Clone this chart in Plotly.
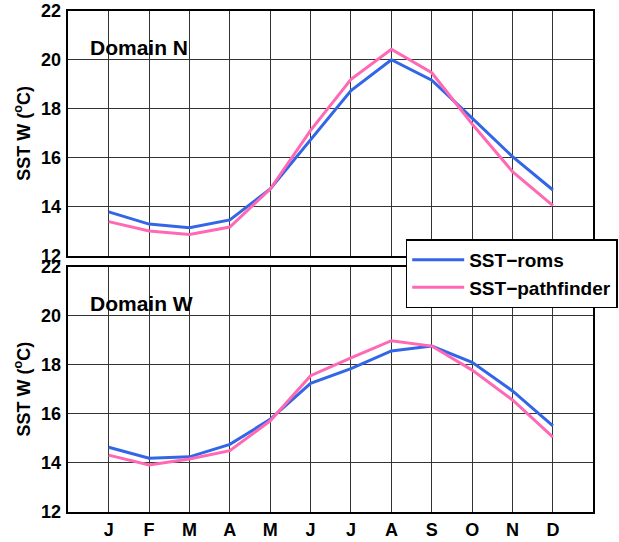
import plotly.graph_objects as go
from plotly.subplots import make_subplots

# Monthly climatology of sea surface temperature
months = ["J", "F", "M", "A", "M", "J", "J", "A", "S", "O", "N", "D"]
month_idx = list(range(1, 13))

# Domain N
roms_n = [13.80, 13.30, 13.15, 13.47, 14.73, 16.72, 18.74, 20.00, 19.17, 17.62, 16.05, 14.69]
path_n = [13.40, 13.02, 12.88, 13.18, 14.73, 17.12, 19.20, 20.43, 19.47, 17.38, 15.44, 14.05]

# Domain W
roms_w = [14.63, 14.18, 14.24, 14.75, 15.77, 17.24, 17.84, 18.56, 18.76, 18.10, 16.93, 15.50]
path_w = [14.31, 13.91, 14.15, 14.49, 15.71, 17.55, 18.28, 18.98, 18.76, 17.78, 16.56, 15.04]

panel_titles = ["Domain N", "Domain W"]
series_names = ["SST\u2212roms", "SST\u2212pathfinder"]
blue = "rgb(51,102,230)"
pink = "rgb(255,105,180)"

FONT = "Liberation Sans, Arial, Helvetica, sans-serif"

fig = make_subplots(rows=2, cols=1, shared_xaxes=False)

for r, (roms, path) in enumerate([(roms_n, path_n), (roms_w, path_w)], start=1):
    fig.add_trace(go.Scatter(x=month_idx, y=roms, mode="lines", name=series_names[0],
                             line=dict(color=blue, width=3), showlegend=(r == 1)), row=r, col=1)
    fig.add_trace(go.Scatter(x=month_idx, y=path, mode="lines", name=series_names[1],
                             line=dict(color=pink, width=3), showlegend=(r == 1)), row=r, col=1)

x_dom = [68.3 / 619, 593.3 / 619]
y_doms = [[1 - 256 / 542, 1 - 10.7 / 542], [1 - 511.7 / 542, 1 - 266.7 / 542]]

axis_common = dict(showline=True, mirror=True, linecolor="black", linewidth=1.5,
                   showgrid=True, gridcolor="#333333", gridwidth=1, zeroline=False,
                   automargin=False, ticks="",
                   tickfont=dict(family=FONT, size=18, color="black", weight="bold"))

for r in (1, 2):
    xa = "xaxis" if r == 1 else "xaxis2"
    ya = "yaxis" if r == 1 else "yaxis2"
    fig.layout[xa].update(domain=x_dom, range=[0, 13], tickmode="array",
                          tickvals=month_idx, ticktext=months,
                          showticklabels=(r == 2), **axis_common)
    fig.layout[ya].update(domain=y_doms[r - 1], range=[12, 22], tickmode="linear",
                          tick0=12, dtick=2, ticklabelstandoff=2, **axis_common)
    fig.layout[ya].title = dict(text="SST W (<sup>o</sup>C)", standoff=6,
                                font=dict(family=FONT, size=18, color="black", weight="bold"))

fig.layout.xaxis2.ticklabelstandoff = 1

for r, t in enumerate(panel_titles, start=1):
    fig.add_annotation(text=t, x=0.5, y=20.5, xref=f"x{'' if r == 1 else r}",
                       yref=f"y{'' if r == 1 else r}", xanchor="left", yanchor="middle",
                       showarrow=False,
                       font=dict(family=FONT, size=21, color="black", weight="bold"))

fig.update_layout(
    width=619, height=542,
    margin=dict(l=0, r=0, t=0, b=0),
    paper_bgcolor="white", plot_bgcolor="white",
    legend=dict(x=405.7 / 619, y=1 - 239.3 / 542, xanchor="left", yanchor="top",
                bgcolor="white", bordercolor="black", borderwidth=1.5, itemwidth=52,
                font=dict(family=FONT, size=19, color="black", weight="bold")),
)

fig.write_html("out.html")
